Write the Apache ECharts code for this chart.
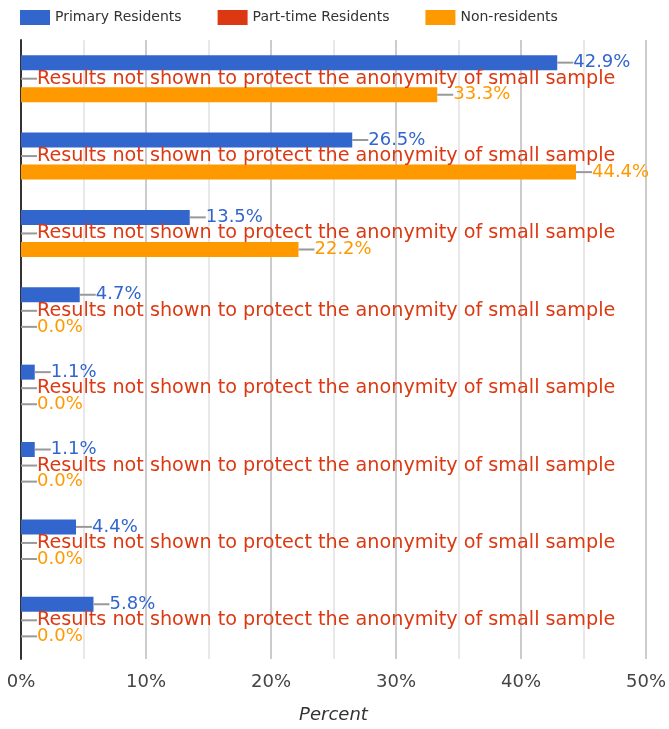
<!DOCTYPE html>
<html>
<head>
<meta charset="utf-8">
<title>Residents chart</title>
<script src="https://cdn.jsdelivr.net/npm/echarts@6/dist/echarts.min.js"></script>
<style>
  html, body { margin: 0; padding: 0; background: #fff; }
  #main { width: 669px; height: 729px; }
</style>
</head>
<body>
<div id="main"></div>
<script>
// categories (labels are not shown on the chart)
var categories = ['Group 1', 'Group 2', 'Group 3', 'Group 4', 'Group 5', 'Group 6', 'Group 7', 'Group 8'];
// series values, percent
var primaryResidents = [42.9, 26.5, 13.5, 4.7, 1.1, 1.1, 4.4, 5.8];
var partTimeResidents = [0, 0, 0, 0, 0, 0, 0, 0];
var nonResidents = [33.3, 44.4, 22.2, 0, 0, 0, 0, 0];
var hiddenText = 'Results not shown to protect the anonymity of small sample';
// x axis ticks
var xTicks = [0, 10, 20, 30, 40, 50];

var FONT = 'DejaVu Sans';

function makeLabel(color, size, textFn) {
  return {
    show: true,
    position: 'right',
    distance: 0,
    formatter: function (p) { return '{l|}{v|' + textFn(p) + '}'; },
    rich: {
      l: { width: 16, height: 2, backgroundColor: '#999999' },
      v: { color: color, fontSize: size, fontFamily: FONT }
    }
  };
}

var myChart = echarts.init(document.getElementById('main'));
var option = {
  animation: false,
  textStyle: { fontFamily: FONT },
  legend: {
    left: 15,
    top: 5,
    itemWidth: 30,
    itemHeight: 15,
    itemGap: 36,
    icon: 'rect',
    textStyle: { fontSize: 14, color: '#333', fontFamily: FONT },
    data: ['Primary Residents', 'Part-time Residents', 'Non-residents']
  },
  grid: { left: 21, right: 23, top: 40, bottom: 69 },
  xAxis: {
    type: 'value',
    min: 0,
    max: 50,
    interval: 5,
    name: 'Percent',
    nameLocation: 'middle',
    nameGap: 47,
    nameTextStyle: { fontSize: 18, fontStyle: 'italic', color: '#333', fontFamily: FONT },
    axisLine: { show: false },
    axisTick: { show: false },
    axisLabel: {
      fontSize: 18,
      color: '#444',
      margin: 14,
      fontFamily: FONT,
      formatter: function (v) { return xTicks.indexOf(v) >= 0 ? v + '%' : ''; }
    },
    splitLine: { lineStyle: { color: ['#cccccc', '#e8e8e8'], width: 2 } }
  },
  yAxis: {
    type: 'category',
    inverse: true,
    data: categories,
    axisLine: { lineStyle: { color: '#333', width: 2 } },
    axisTick: { show: false },
    axisLabel: { show: false }
  },
  series: [
    {
      name: 'Primary Residents',
      type: 'bar',
      data: primaryResidents,
      barWidth: 15,
      barGap: '7%',
      itemStyle: { color: '#3366cc' },
      label: makeLabel('#3366cc', 18, function (p) { return p.value.toFixed(1) + '%'; })
    },
    {
      name: 'Part-time Residents',
      type: 'bar',
      data: partTimeResidents,
      barWidth: 15,
      barGap: '7%',
      itemStyle: { color: '#dc3912' },
      label: makeLabel('#dc3912', 19.2, function () { return hiddenText; })
    },
    {
      name: 'Non-residents',
      type: 'bar',
      data: nonResidents,
      barWidth: 15,
      barGap: '7%',
      itemStyle: { color: '#ff9900' },
      label: makeLabel('#ff9900', 18, function (p) { return p.value.toFixed(1) + '%'; })
    }
  ]
};
myChart.setOption(option);
</script>
</body>
</html>
